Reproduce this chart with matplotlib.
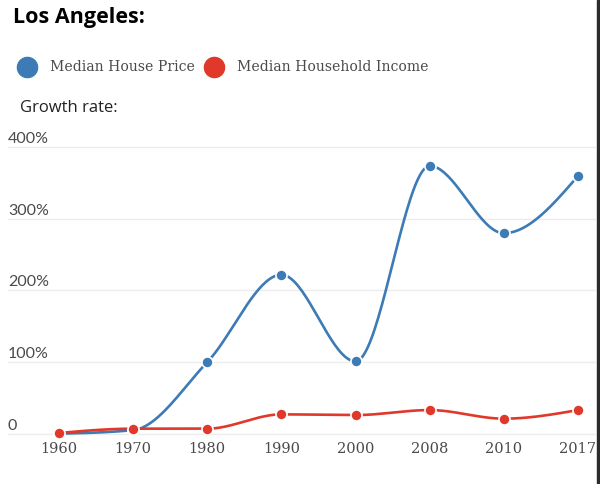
import numpy as np
import matplotlib.pyplot as plt
from matplotlib.patches import Rectangle

# data (growth rate in %)
years = ['1960', '1970', '1980', '1990', '2000', '2008', '2010', '2017']
house_price = [0, 5, 100, 222, 101, 374, 280, 360]
household_income = [1, 7, 7, 27, 26, 33, 21, 33]
yticks = [0, 100, 200, 300, 400]
ytick_labels = ['0', '100%', '200%', '300%', '400%']

BLUE = '#3c7bb5'
RED = '#e0392b'
GRID = '#ececec'
TXT = '#4a4a4a'


def monotone_curve(x, y, n=40):
    # d3 curveMonotoneX style smoothing (Steffen slopes, cubic Hermite)
    x = np.asarray(x, float)
    y = np.asarray(y, float)
    m = len(x)
    h = np.diff(x)
    s = np.diff(y) / h
    t = np.zeros(m)
    for i in range(1, m - 1):
        p = (s[i - 1] * h[i] + s[i] * h[i - 1]) / (h[i - 1] + h[i])
        t[i] = (np.sign(s[i - 1]) + np.sign(s[i])) * min(abs(s[i - 1]), abs(s[i]), 0.5 * abs(p))
    t[0] = (3 * s[0] - t[1]) / 2
    t[-1] = (3 * s[-1] - t[-2]) / 2
    xs, ys = [], []
    for i in range(m - 1):
        u = np.linspace(0, 1, n)
        h00 = 2 * u**3 - 3 * u**2 + 1
        h10 = u**3 - 2 * u**2 + u
        h01 = -2 * u**3 + 3 * u**2
        h11 = u**3 - u**2
        xs.append(x[i] + u * h[i])
        ys.append(h00 * y[i] + h10 * h[i] * t[i] + h01 * y[i + 1] + h11 * h[i] * t[i + 1])
    return np.concatenate(xs), np.concatenate(ys)


W, H = 600, 484
fig = plt.figure(figsize=(6, 4.84), dpi=100)

# axes placed in pixel terms: x index 0 -> px 59, 7 -> px 578; y 0 -> px 433.7, 400 -> px 147.3
px_per_x = (578 - 59) / 7
px_per_y = (433.7 - 147.3) / 400
ax_left, ax_right = 8, 596
ax_top, ax_bottom = 140, 440
ax = fig.add_axes([ax_left / W, 1 - ax_bottom / H, (ax_right - ax_left) / W, (ax_bottom - ax_top) / H])
ax.set_xlim((ax_left - 59) / px_per_x, (ax_right - 59) / px_per_x)
ax.set_ylim(-(ax_bottom - 433.7) / px_per_y, 400 + (147.3 - ax_top) / px_per_y)

for v in yticks:
    ax.axhline(v, color=GRID, lw=1, zorder=0)
for sp in ax.spines.values():
    sp.set_visible(False)
ax.set_xticks([])
ax.set_yticks([])
ax.patch.set_alpha(0)

x = np.arange(len(years))
for vals, col, z in [(house_price, BLUE, 2), (household_income, RED, 3)]:
    cx, cy = monotone_curve(x, vals)
    ax.plot(cx, cy, color=col, lw=1.9, zorder=z, solid_capstyle='round')
    ax.plot(x, vals, 'o', color=col, ms=8, mec='white', mew=1.2, zorder=z + 0.5)

# y labels sit just above their gridlines at the left edge
for v, lab in zip(yticks, ytick_labels):
    fig.text(ax_left / W, 1 - (433.7 - v * px_per_y - 4) / H, lab, fontsize=11.5,
             family='Lato', color=TXT, ha='left', va='baseline')

# x labels
for i, lab in enumerate(years):
    fig.text((59 + i * px_per_x) / W, 1 - 449 / H, lab, fontsize=10.5,
             family='DejaVu Serif', color=TXT, ha='center', va='center')

fig.text(13 / W, 1 - 18 / H, 'Los Angeles:', fontsize=15.5, fontweight='bold',
         family='Open Sans', color='black', ha='left', va='center')

# legend
ax_leg = fig.add_axes([0, 0, 1, 1])
ax_leg.set_xlim(0, W)
ax_leg.set_ylim(H, 0)
ax_leg.axis('off')
ax_leg.plot([27], [67], 'o', color=BLUE, ms=14.5)
ax_leg.plot([214], [67], 'o', color=RED, ms=14.5)
ax_leg.text(50, 67, 'Median House Price', fontsize=10.1, family='DejaVu Serif',
            color=TXT, ha='left', va='center')
ax_leg.text(237, 67, 'Median Household Income', fontsize=10.1, family='DejaVu Serif',
            color=TXT, ha='left', va='center')
ax_leg.text(20, 108, 'Growth rate:', fontsize=12, family='Open Sans',
            color='#222222', ha='left', va='center')

# dark border strip on the right edge
fig.patches.append(Rectangle((597 / W, 0), 3 / W, 1, transform=fig.transFigure,
                             color='#2b2b2b', zorder=10))

fig.savefig('out.png', dpi=100)
